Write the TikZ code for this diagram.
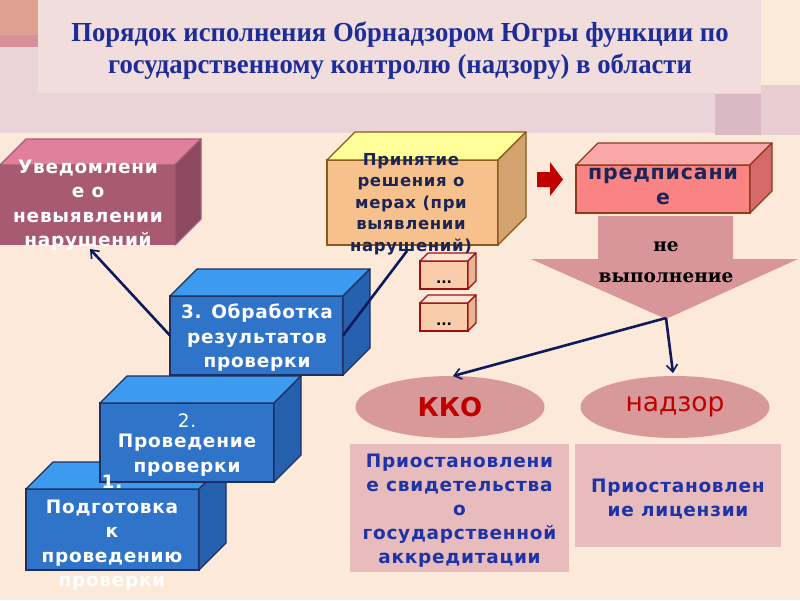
\documentclass[tikz,border=0pt]{standalone}
\usepackage{fontspec}
\setmainfont{DejaVu Sans}
\newfontfamily\titlefont[FakeStretch=0.97]{Liberation Serif}
\newfontfamily\boxfont[LetterSpace=4]{DejaVu Sans}
\newfontfamily\plainfont{DejaVu Sans}
\newfontfamily\serfont{DejaVu Serif}
\usetikzlibrary{arrows.meta,shapes.geometric}
\definecolor{bgpeach}{HTML}{FCE9D9}
\definecolor{band}{HTML}{EBD4D9}
\definecolor{titlebox}{HTML}{F2DDDD}
\definecolor{salmonA}{HTML}{DFA192}
\definecolor{salmonB}{HTML}{D8919A}
\definecolor{mauve}{HTML}{D9B9C4}
\definecolor{mauveB}{HTML}{E8CDD2}
\definecolor{cream}{HTML}{FDEBD9}
\definecolor{titleblue}{HTML}{1C2D99}
\definecolor{navy}{HTML}{1B2556}
\definecolor{linenavy}{HTML}{0D1B5C}
\definecolor{txtblue}{HTML}{1E33A8}
\definecolor{pkfront}{HTML}{A85A72}
\definecolor{pktop}{HTML}{E0809C}
\definecolor{pkside}{HTML}{8E4A60}
\definecolor{yfront}{HTML}{F6C18D}
\definecolor{ytop}{HTML}{FFFF99}
\definecolor{yside}{HTML}{D2A26F}
\definecolor{yborder}{HTML}{8A5A1A}
\definecolor{rfront}{HTML}{FA8484}
\definecolor{rtop}{HTML}{F8A8A8}
\definecolor{rside}{HTML}{D66A6A}
\definecolor{rborder}{HTML}{8B3A1A}
\definecolor{bfront}{HTML}{2F74C9}
\definecolor{btop}{HTML}{3C9BEF}
\definecolor{bside}{HTML}{2661B0}
\definecolor{bborder}{HTML}{1F2F5F}
\definecolor{sfront}{HTML}{F9CDAB}
\definecolor{stop}{HTML}{FCE5D3}
\definecolor{sside}{HTML}{E6B594}
\definecolor{sborder}{HTML}{A01010}
\definecolor{arrowpink}{HTML}{D8969A}
\definecolor{ellpink}{HTML}{D8999B}
\definecolor{rectpink}{HTML}{E8BCBC}
\definecolor{darkred}{HTML}{C00000}
\newcommand\cubfaces[5]{%
  \filldraw[fill=#3,draw=#5,line width=1.2pt,line join=round]
    (#1.north west) -- ++(#2,-#2) -- ([shift={(#2,-#2)}]#1.north east) -- (#1.north east) -- cycle;
  \filldraw[fill=#4,draw=#5,line width=1.2pt,line join=round]
    (#1.north east) -- ++(#2,-#2) -- ([shift={(#2,-#2)}]#1.south east) -- (#1.south east) -- cycle;}
\tikzset{
  front/.style={rectangle,inner sep=0pt,outer sep=0pt,line width=1.2pt},
  boxtxt/.style={font=\boxfont\bfseries\fontsize{18.5}{24.5}\selectfont,align=center,inner sep=0pt,text=white},
  navytxt/.style={font=\boxfont\bfseries\fontsize{16.5}{21.5}\selectfont,align=center,inner sep=0pt,text=navy},
  recttxt/.style={font=\boxfont\bfseries\fontsize{18.5}{24}\selectfont,align=center,inner sep=0pt,text=txtblue},
  conn/.style={draw=linenavy,line width=2.6pt},
  connarrow/.style={conn,-{Straight Barb[length=7pt,width=11pt,line width=1.6pt]}},
  ell/.style={ellipse,fill=ellpink,minimum width=189pt,minimum height=62pt,inner sep=0pt},
  rect/.style={rectangle,fill=rectpink,inner sep=0pt,outer sep=0pt}
}
\begin{document}
\begin{tikzpicture}[x=1pt,y=-1pt]
\useasboundingbox (0,0) rectangle (800,600);
% background
\fill[bgpeach] (0,0) rectangle (800,600);
\fill[band] (0,0) rectangle (800,133);
\fill[salmonA] (0,0) rectangle (38,35);
\fill[salmonB] (0,35) rectangle (38,47);
\fill[cream] (761,0) rectangle (800,85);
\fill[mauveB] (761,85) rectangle (800,135);
\fill[mauve] (715,94) rectangle (761,135);
\fill[titlebox] (38,0) rectangle (761,93);
\node[font=\titlefont\bfseries\fontsize{27.5}{32}\selectfont,text=titleblue,align=center,inner sep=0pt] (title) at (400,51)
  {Порядок исполнения Обрнадзором Югры функции по\\государственному контролю (надзору) в области};

% pink cuboid: Уведомление
\node[front,fill=pkfront,minimum width=175pt,minimum height=80pt] (uv) at (87.5,205) {};
\cubfaces{uv}{26}{pktop}{pkside}{pkfront}
\node[boxtxt] (uvt) at (88,205) {Уведомлени\\е о\\невыявлении\\нарушений};

% yellow cuboid: Принятие решения
\node[front,draw=yborder,fill=yfront,minimum width=171pt,minimum height=85pt] (pr) at (412.5,202.5) {};
\cubfaces{pr}{28}{ytop}{yside}{yborder}
\node[navytxt] (prt) at (411,204) {Принятие\\решения о\\мерах (при\\выявлении\\нарушений)};

% red block arrow
\fill[darkred] (537,172) -- (550,172) -- (550,162) -- (563,179.5) -- (550,196) -- (550,187) -- (537,187) -- cycle;

% red cuboid: предписание
\node[front,draw=rborder,fill=rfront,minimum width=174pt,minimum height=48pt] (pd) at (663,189) {};
\cubfaces{pd}{22}{rtop}{rside}{rborder}
\node[font=\boxfont\bfseries\fontsize{20.5}{25}\selectfont,text=navy,align=center,inner sep=0pt] (pdt) at (663,186) {предписани\\е};

% big down arrow
\fill[arrowpink] (598,216) -- (733,216) -- (733,259) -- (798,259) -- (666,319) -- (531,259) -- (598,259) -- cycle;
\node[font=\serfont\bfseries\fontsize{18.5}{31}\selectfont,text=black,align=center,inner sep=0pt] (nv) at (666,262) {не\\выполнение};

% small cuboids
\node[front,draw=sborder,fill=sfront,minimum width=48pt,minimum height=28pt] (s1) at (444,275) {};
\cubfaces{s1}{8}{stop}{sside}{sborder}
\node[front,draw=sborder,fill=sfront,minimum width=48pt,minimum height=28pt] (s2) at (444,317) {};
\cubfaces{s2}{8}{stop}{sside}{sborder}
\node[font=\plainfont\bfseries\fontsize{14}{14}\selectfont,inner sep=0pt] (d1) at (444,282) {...};
\node[font=\plainfont\bfseries\fontsize{14}{14}\selectfont,inner sep=0pt] (d2) at (444,324) {...};

% blue cuboids
\node[front,draw=bborder,fill=bfront,minimum width=173pt,minimum height=81pt] (b1) at (112.5,529.5) {};
\cubfaces{b1}{27}{btop}{bside}{bborder}
\node[front,draw=bborder,fill=bfront,minimum width=174pt,minimum height=79pt] (b2) at (187,442.5) {};
\cubfaces{b2}{27}{btop}{bside}{bborder}
\node[front,draw=bborder,fill=bfront,minimum width=173pt,minimum height=79pt] (b3) at (256.5,335.5) {};
\cubfaces{b3}{27}{btop}{bside}{bborder}
\node[boxtxt] (b3t) at (257,338) {3. Обработка\\результатов\\проверки};
\node[boxtxt,font=\boxfont\fontsize{18.5}{22}\selectfont] (b2a) at (187,421) {2.};
\node[boxtxt] (b2t) at (187,455) {Проведение\\проверки};
\node[boxtxt] (b1t) at (112,533) {1.\\Подготовка\\к\\проведению\\проверки};

% connectors
\coordinate (uvtip) at (90,249);
\coordinate (prend) at (407,251);
\coordinate (apex) at (666,318);
\draw[connarrow] (b3.west) -- (uvtip);
\draw[conn] (b3.east) -- (prend);

% ellipses
\node[ell] (kko) at (450,407) {};
\node[font=\plainfont\bfseries\fontsize{26}{26}\selectfont,text=darkred,inner sep=0pt] (kkot) at (450,407) {ККО};
\node[ell] (nad) at (675,407) {};
\node[font=\plainfont\fontsize{26.5}{26}\selectfont,text=darkred,inner sep=0pt] (nadt) at (675,407) {надзор};
\draw[connarrow] (apex) -- (453,376);
\draw[connarrow] (apex) -- (673,373);

% rectangles
\node[rect,minimum width=219pt,minimum height=128pt] (r1) at (459.5,508) {};
\node[recttxt] (r1t) at (459.5,511) {Приостановлени\\е свидетельства\\о\\государственной\\аккредитации};
\node[rect,minimum width=206pt,minimum height=103pt] (r2) at (678,495.5) {};
\node[recttxt] (r2t) at (678,499) {Приостановлен\\ие лицензии};
\end{tikzpicture}
\end{document}
